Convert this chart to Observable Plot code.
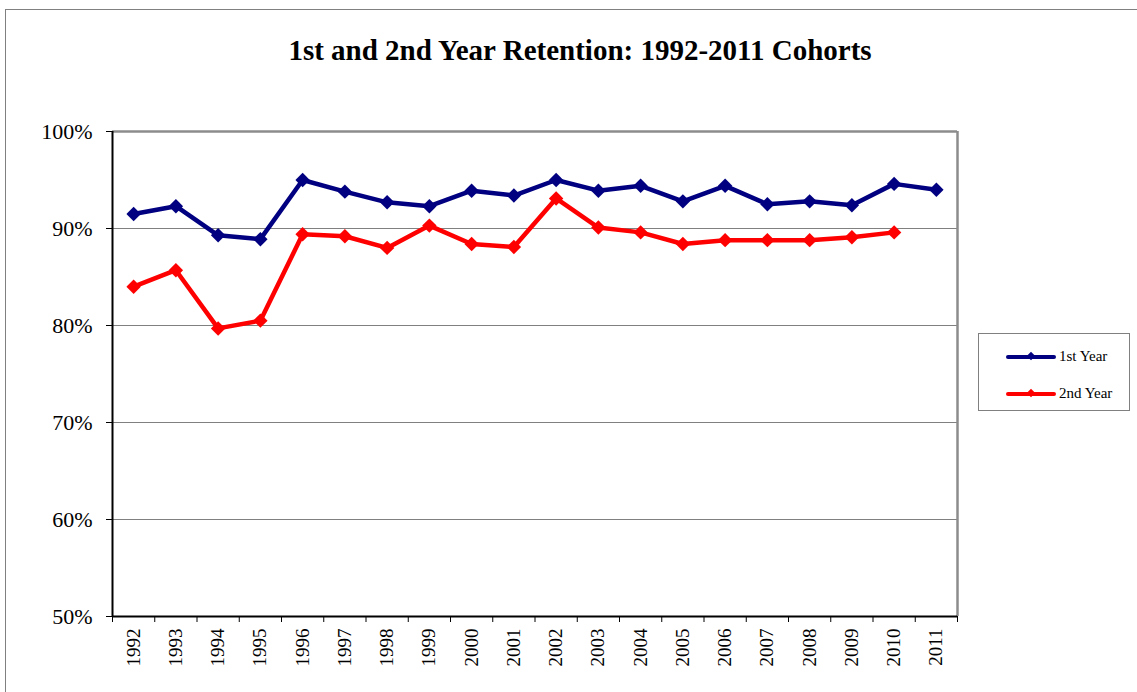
<!DOCTYPE html>
<html>
<head>
<meta charset="utf-8">
<script src="https://cdn.jsdelivr.net/npm/d3@7"></script>
<script src="https://cdn.jsdelivr.net/npm/@observablehq/plot@0.6"></script>
<style>
  html, body { margin: 0; padding: 0; background: #fff; }
  #wrap { position: relative; width: 1137px; height: 692px; overflow: hidden; font-family: "Liberation Serif", "DejaVu Serif", serif; }
  #border { position: absolute; left: 5px; top: 9px; width: 1200px; height: 800px; border: 1px solid #808080; box-sizing: border-box; }
  #title { position: absolute; left: 0; width: 1160px; top: 34px; text-align: center; font-weight: bold; font-size: 29px; color: #000; }
  #chart { position: absolute; left: 0; top: 0; }
  #legend { position: absolute; left: 978px; top: 333px; width: 152px; height: 78px; border: 1px solid #808080; box-sizing: border-box; background: #fff; font-size: 15px; }
  .item { position: absolute; left: 27px; display: flex; align-items: center; }
  .sw { position: relative; width: 50px; height: 4px; margin-right: 3px; border-radius: 2px; }
  .sw::after { content: ""; position: absolute; left: 22px; top: -2px; width: 6px; height: 6px; background: inherit; transform: rotate(45deg); }
</style>
</head>
<body>
<div id="wrap">
  <div id="border"></div>
  <div id="chart"></div>
  <div id="title">1st and 2nd Year Retention: 1992-2011 Cohorts</div>
  <div id="legend"></div>
</div>
<script>
const years = [1992,1993,1994,1995,1996,1997,1998,1999,2000,2001,2002,2003,2004,2005,2006,2007,2008,2009,2010,2011];
const firstYear = [91.5,92.3,89.3,88.9,95.0,93.8,92.7,92.3,93.9,93.4,95.0,93.9,94.4,92.8,94.4,92.5,92.8,92.4,94.6,94.0];
const secondYear = [84.0,85.7,79.7,80.5,89.4,89.2,88.0,90.3,88.4,88.1,93.1,90.1,89.6,88.4,88.8,88.8,88.8,89.1,89.6];
const seriesNames = ["1st Year", "2nd Year"];
const seriesColors = ["#000080", "#FF0000"];
const yTicks = [50, 60, 70, 80, 90, 100];

const rows = [];
firstYear.forEach((v, i) => rows.push({year: years[i], value: v, series: seriesNames[0]}));
secondYear.forEach((v, i) => rows.push({year: years[i], value: v, series: seriesNames[1]}));

const xDomain = [years[0] - 0.5, years[years.length - 1] + 0.5];
const boundaries = d3.range(years[0] - 0.5, years[years.length - 1] + 1, 1);
const yMin = d3.min(yTicks), yMax = d3.max(yTicks);

const chart = Plot.plot({
  width: 1137,
  height: 692,
  marginLeft: 112,
  marginRight: 180,
  marginTop: 131,
  marginBottom: 76,
  style: { fontFamily: "'Liberation Serif', serif", background: "transparent", overflow: "visible" },
  x: { type: "linear", domain: xDomain },
  y: { type: "linear", domain: [yMin, yMax] },
  color: { domain: seriesNames, range: seriesColors },
  marks: [
    Plot.ruleY(yTicks.filter(d => d > yMin && d < yMax), { stroke: "#808080", strokeWidth: 1 }),
    Plot.ruleY([yMax], { stroke: "#8c8c8c", strokeWidth: 2.5 }),
    Plot.ruleX([xDomain[1]], { stroke: "#8c8c8c", strokeWidth: 2.5 }),
    Plot.axisY({ ticks: yTicks, tickFormat: d => d + "%", tickSize: 6, tickPadding: 14, fontSize: 22, label: null, stroke: "#000" }),
    Plot.axisX({ ticks: years, tickFormat: d => String(d), tickSize: 0, tickPadding: 12, tickRotate: -90, fontSize: 19, label: null }),
    Plot.axisX({ ticks: boundaries, tickFormat: () => "", tickSize: 6, label: null, stroke: "#000" }),
    Plot.line(rows, { x: "year", y: "value", z: "series", stroke: "series", strokeWidth: 4.5, strokeLinejoin: "round" }),
    Plot.dot(rows, { x: "year", y: "value", fill: "series", symbol: "diamond2", r: 6.5, stroke: null }),
    Plot.ruleY([yMin], { stroke: "#000", strokeWidth: 2 }),
    Plot.ruleX([xDomain[0]], { stroke: "#000", strokeWidth: 2 })
  ]
});
document.getElementById("chart").appendChild(chart);

const legend = document.getElementById("legend");
seriesNames.forEach((name, i) => {
  const item = document.createElement("div");
  item.className = "item";
  item.style.top = (i === 0 ? 14 : 51) + "px";
  const sw = document.createElement("div");
  sw.className = "sw";
  sw.style.background = seriesColors[i];
  const label = document.createElement("span");
  label.textContent = name;
  item.appendChild(sw);
  item.appendChild(label);
  legend.appendChild(item);
});
</script>
</body>
</html>
